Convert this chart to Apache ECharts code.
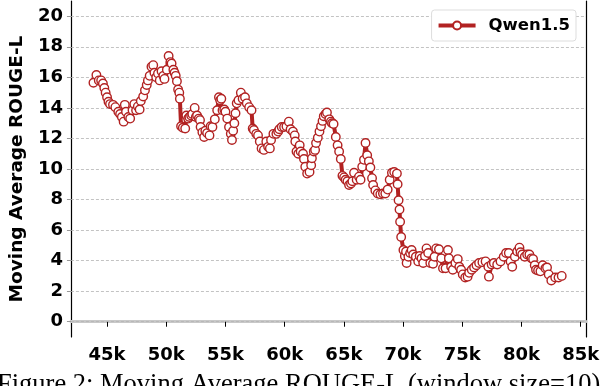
<!DOCTYPE html>
<html>
<head>
<meta charset="utf-8">
<script src="https://cdn.jsdelivr.net/npm/echarts@6/dist/echarts.min.js"></script>
<style>
  html, body { margin: 0; padding: 0; background: #fff; }
  #main { width: 608px; height: 386px; }
</style>
</head>
<body>
<div id="main"></div>
<script>
// training steps (in thousands)
var steps = [
  43.85, 44.1, 44.3, 44.5, 44.65, 44.77, 44.88, 45.0, 45.12, 45.25, 45.5, 45.7, 45.95, 46.1, 46.25, 46.4, 46.5, 46.6, 46.8, 46.95,
  47.15, 47.3, 47.45, 47.6, 47.75, 47.85, 48.05, 48.2, 48.35, 48.45, 48.6, 48.75, 48.9, 49.0, 49.15, 49.3, 49.45, 49.6, 49.75, 49.85,
  50.05, 50.2, 50.35, 50.45, 50.6, 50.7, 50.8, 50.9, 51.0, 51.1, 51.15, 51.25, 51.4, 51.6, 51.7, 51.85, 51.95, 52.1, 52.2, 52.4,
  52.5, 52.6, 52.75, 52.85, 52.9, 53.05, 53.2, 53.3, 53.45, 53.65, 53.75, 53.9, 54.1, 54.3, 54.45, 54.55, 54.65, 54.75, 54.9, 55.0,
  55.15, 55.3, 55.45, 55.55, 55.65, 55.75, 55.85, 55.95, 56.1, 56.3, 56.45, 56.65, 56.8, 57.0, 57.2, 57.3, 57.4, 57.6, 57.75, 57.9,
  58.05, 58.25, 58.45, 58.6, 58.75, 58.85, 59.05, 59.3, 59.45, 59.55, 59.75, 59.95, 60.15, 60.35, 60.5, 60.7, 60.85, 60.9, 61.0, 61.15,
  61.27, 61.35, 61.55, 61.63, 61.74, 61.9, 62.1, 62.24, 62.3, 62.46, 62.57, 62.65, 62.8, 62.94, 63.07, 63.2, 63.3, 63.45, 63.57, 63.77,
  63.9, 64.0, 64.13, 64.32, 64.47, 64.6, 64.74, 64.88, 65.02, 65.15, 65.3, 65.44, 65.6, 65.72, 65.86, 66.08, 66.28, 66.41, 66.55, 66.7,
  66.83, 66.97, 67.11, 67.24, 67.38, 67.47, 67.66, 67.86, 68.08, 68.3, 68.5, 68.7, 68.87, 69.06, 69.25, 69.48, 69.54, 69.62, 69.7, 69.75,
  69.84, 70.03, 70.15, 70.25, 70.3, 70.45, 70.6, 70.72, 70.86, 71.08, 71.28, 71.4, 71.56, 71.7, 71.85, 71.98, 72.12, 72.3, 72.53, 72.66,
  72.8, 73.03, 73.23, 73.37, 73.59, 73.79, 73.87, 74.06, 74.2, 74.42, 74.62, 74.75, 74.9, 75.04, 75.25, 75.45, 75.58, 75.8, 76.0, 76.2,
  76.42, 76.7, 76.97, 77.2, 77.25, 77.48, 77.67, 77.95, 78.23, 78.5, 78.7, 78.93, 79.08, 79.22, 79.44, 79.64, 79.83, 79.92, 80.06, 80.28,
  80.48, 80.67, 80.84, 80.98, 81.12, 81.23, 81.4, 81.6, 81.79, 82.02, 82.16, 82.3, 82.52, 82.85, 83.13, 83.4
];
// moving average ROUGE-L
var rougeL = [
  15.65, 16.15, 15.8, 15.8, 15.6, 15.3, 15.0, 14.7, 14.4, 14.25, 14.2, 14.05, 13.75, 13.6, 13.4, 13.1, 14.2, 13.75, 13.4, 13.3,
  13.85, 14.25, 13.85, 14.1, 13.9, 14.45, 14.75, 15.15, 15.5, 15.8, 16.1, 16.7, 16.8, 16.3, 16.0, 16.25, 15.8, 16.4, 16.1, 15.9,
  16.5, 17.4, 17.0, 16.9, 16.5, 16.3, 16.1, 15.75, 15.2, 15.0, 14.6, 12.8, 12.7, 12.65, 13.5, 13.3, 13.4, 13.5, 13.6, 14.0,
  13.4, 13.5, 13.3, 13.2, 12.75, 12.4, 12.1, 12.5, 12.35, 12.2, 12.8, 12.75, 13.25, 13.85, 14.7, 14.5, 14.6, 13.85, 13.9, 13.75,
  13.3, 12.75, 12.3, 11.9, 12.5, 13.0, 13.65, 14.3, 14.5, 15.0, 14.6, 14.7, 14.3, 14.05, 13.85, 12.65, 12.55, 12.3, 12.2, 11.8,
  11.35, 11.25, 11.8, 11.45, 11.35, 11.9, 12.3, 12.3, 12.45, 12.6, 12.75, 12.75, 12.8, 13.1, 12.6, 12.45, 12.2, 11.8, 11.15, 11.0,
  11.55, 11.15, 11.0, 10.65, 10.15, 9.7, 9.8, 10.25, 10.7, 11.15, 11.25, 11.7, 12.05, 12.45, 12.8, 13.15, 13.45, 13.6, 13.7, 13.25,
  13.1, 13.0, 12.95, 12.1, 11.55, 11.15, 10.65, 9.55, 9.45, 9.3, 9.2, 8.95, 9.05, 9.2, 9.75, 9.3, 9.5, 9.3, 10.15, 10.6,
  11.7, 10.9, 10.5, 10.1, 9.4, 8.95, 8.6, 8.4, 8.35, 8.4, 8.4, 8.65, 9.3, 9.75, 9.8, 9.7, 9.0, 7.95, 7.35, 6.55,
  5.55, 4.7, 4.3, 4.6, 3.85, 4.25, 4.5, 4.7, 4.4, 4.25, 3.95, 4.3, 4.15, 3.85, 4.3, 4.8, 4.5, 3.85, 3.8, 4.25,
  4.8, 4.75, 4.15, 3.5, 3.5, 4.7, 4.15, 3.6, 3.4, 3.85, 4.1, 3.6, 3.4, 3.1, 2.9, 2.95, 3.2, 3.4, 3.55, 3.7,
  3.85, 3.9, 3.95, 3.6, 2.95, 3.75, 3.85, 3.75, 3.95, 4.25, 4.5, 4.5, 3.95, 3.6, 4.25, 4.6, 4.85, 4.55, 4.4, 4.25,
  4.4, 4.4, 4.15, 4.1, 3.7, 3.4, 3.35, 3.3, 3.7, 3.5, 3.55, 3.1, 2.7, 2.9, 2.9, 3.0
];
var xTicks = [45, 50, 55, 60, 65, 70, 75, 80, 85];
var yTicks = [0, 2, 4, 6, 8, 10, 12, 14, 16, 18, 20];

var lineData = [];
for (var i = 0; i < steps.length; i++) {
  lineData.push([steps[i], rougeL[i]]);
}
var gridLines = yTicks.map(function (v) { return { yAxis: v }; });

var FONT = 'DejaVu Sans';
var myChart = echarts.init(document.getElementById('main'), null, { renderer: 'canvas' });
var option = {
  animation: false,
  backgroundColor: '#fff',
  grid: { left: 66, right: 22, top: 1, bottom: 49 },
  legend: {
    data: ['Qwen1.5'],
    right: 32,
    top: 10,
    padding: [7, 6, 7, 5],
    itemWidth: 37,
    itemHeight: 10,
    backgroundColor: '#fff',
    borderColor: '#ddd',
    borderWidth: 1,
    borderRadius: 3,
    lineStyle: { width: 4 },
    textStyle: {
      fontFamily: FONT, fontWeight: 'bold', fontSize: 16.5, color: '#000',
      padding: [0, 0, 0, 8]
    }
  },
  xAxis: [{
    type: 'value',
    min: 41.95,
    max: 85.45,
    axisLine: { show: true, lineStyle: { color: '#000', width: 1.2 } },
    axisTick: { show: true, customValues: xTicks, length: 5, lineStyle: { color: '#000' } },
    axisLabel: {
      customValues: xTicks,
      margin: 9,
      formatter: function (v) { return v + 'k'; },
      fontFamily: FONT, fontWeight: 'bold', fontSize: 18, color: '#000'
    },
    splitLine: { show: false }
  }, {
    type: 'value',
    position: 'top',
    min: 41.95,
    max: 85.45,
    axisLine: { show: true, lineStyle: { color: '#c8c8c8', width: 3 } },
    axisTick: { show: false },
    axisLabel: { show: false },
    splitLine: { show: false }
  }],
  yAxis: [{
    type: 'value',
    min: -1,
    max: 21,
    name: 'Moving Average ROUGE-L',
    nameLocation: 'middle',
    nameGap: 40,
    nameTextStyle: { fontFamily: FONT, fontWeight: 'bold', fontSize: 18.5, color: '#000' },
    axisLine: { show: true, lineStyle: { color: '#000', width: 1.2 } },
    axisTick: { show: true, customValues: yTicks, length: 4, lineStyle: { color: '#999' } },
    axisLabel: {
      customValues: yTicks,
      margin: 8,
      fontFamily: FONT, fontWeight: 'bold', fontSize: 18, color: '#000'
    },
    splitLine: { show: false }
  }, {
    type: 'value',
    position: 'right',
    min: -1,
    max: 21,
    axisLine: { show: true, lineStyle: { color: '#000', width: 1.2 } },
    axisTick: { show: false },
    axisLabel: { show: false },
    splitLine: { show: false }
  }],
  series: [{
    // dashed horizontal grid
    type: 'line',
    data: [],
    silent: true,
    z: 1,
    markLine: {
      silent: true,
      symbol: ['none', 'none'],
      label: { show: false },
      z: 1,
      lineStyle: { color: '#b4b4b4', type: [3, 2], width: 0.8 },
      data: gridLines
    }
  }, {
    name: 'Qwen1.5',
    type: 'line',
    data: lineData,
    z: 3,
    color: '#b22222',
    lineStyle: { color: '#b22222', width: 4 },
    symbol: 'circle',
    symbolSize: 8.5,
    showAllSymbol: true,
    itemStyle: { color: '#fff', borderColor: '#b22222', borderWidth: 1.4 }
  }],
  graphic: [{
    type: 'text',
    left: -3,
    top: 372,
    style: {
      text: 'Figure 2: Moving Average ROUGE-L (window size=10)',
      font: '26.5px "Liberation Serif"',
      fill: '#000'
    }
  }]
};
myChart.setOption(option);
</script>
</body>
</html>
